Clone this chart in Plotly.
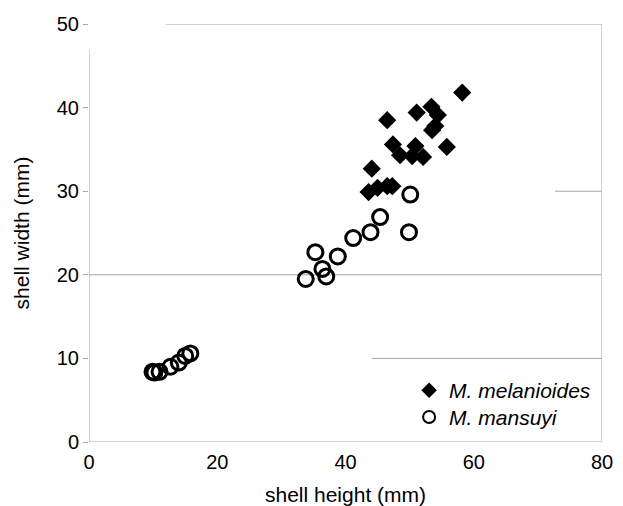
import plotly.graph_objects as go

# M. melanioides (diamonds)
mel_height = [58.2, 53.4, 51.1, 46.5, 54.4, 54.0, 53.5, 55.8, 47.4, 50.9, 48.5, 50.4, 52.1, 44.1, 46.5, 47.3, 45.0, 43.6]
mel_width  = [41.8, 40.1, 39.4, 38.5, 39.1, 37.8, 37.3, 35.3, 35.6, 35.4, 34.3, 34.2, 34.1, 32.7, 30.6, 30.6, 30.4, 29.9]

# M. mansuyi (open circles)
man_height = [50.1, 45.4, 43.9, 49.9, 41.2, 35.3, 38.8, 36.4, 37.0, 33.8, 15.8, 15.0, 14.0, 12.7, 11.0, 10.2, 9.9]
man_width  = [29.6, 26.9, 25.1, 25.1, 24.4, 22.7, 22.2, 20.7, 19.8, 19.5, 10.6, 10.3, 9.5, 9.0, 8.4, 8.3, 8.4]

# axis ticks
x_ticks = [0, 20, 40, 60, 80]
y_ticks = [0, 10, 20, 30, 40, 50]

# partial gridlines as seen in the original (value, x start, x end)
grid_lines = [(50, 12.0, 80), (30, 72.7, 80), (20, 0, 80), (10, 44.1, 80), (0, 0, 80)]

FONT = "Liberation Sans, Arial, sans-serif"
GRID = "#a6a6a6"

fig = go.Figure()
fig.add_trace(go.Scatter(
    x=mel_height, y=mel_width, mode="markers", name="<i>M. melanioides</i>",
    marker=dict(symbol="diamond", size=14, color="black", line=dict(width=0)),
    legend="legend",
))
fig.add_trace(go.Scatter(
    x=man_height, y=man_width, mode="markers", name="<i>M. mansuyi</i>",
    marker=dict(symbol="circle-open", size=15, color="black", line=dict(width=3, color="black")),
    legend="legend2",
))

shapes = []
for v, x0, x1 in grid_lines:
    shapes.append(dict(type="line", xref="x", yref="y", x0=x0, x1=x1, y0=v, y1=v,
                       line=dict(color=GRID, width=1), layer="below"))
# left axis line (partially missing at top) and right border
shapes.append(dict(type="line", xref="x", yref="y", x0=0, x1=0, y0=0, y1=46.9,
                   line=dict(color=GRID, width=1), layer="below"))
shapes.append(dict(type="line", xref="x", yref="y", x0=80, x1=80, y0=0, y1=50,
                   line=dict(color=GRID, width=1), layer="below"))

legend_style = dict(xanchor="left", yanchor="top", bgcolor="rgba(0,0,0,0)",
                    font=dict(size=21, family=FONT), itemsizing="constant")

# page body has an 8px default margin, so the figure is drawn slightly smaller
fig.update_layout(
    width=615, height=498,
    margin=dict(l=81, r=21, t=16, b=64, autoexpand=False),
    paper_bgcolor="white", plot_bgcolor="white",
    font=dict(family=FONT, size=21, color="black"),
    shapes=shapes,
    showlegend=True,
    legend=dict(x=0.624, y=0.172, **legend_style),
    legend2=dict(x=0.624, y=0.108, **legend_style),
    xaxis=dict(range=[0, 80], tickvals=x_ticks, showgrid=False, zeroline=False,
               showline=False, ticks="outside", ticklen=2, tickcolor="rgba(0,0,0,0)",
               automargin=False,
               title=dict(text="shell height (mm)", font=dict(size=21), standoff=17),
               tickfont=dict(size=20)),
    yaxis=dict(range=[0, 50], tickvals=y_ticks, showgrid=False, zeroline=False,
               showline=False, ticks="outside", ticklen=5, tickcolor=GRID, automargin=False,
               title=dict(text="shell width (mm)", font=dict(size=21), standoff=21),
               tickfont=dict(size=20)),
)

fig.write_html("out.html")
